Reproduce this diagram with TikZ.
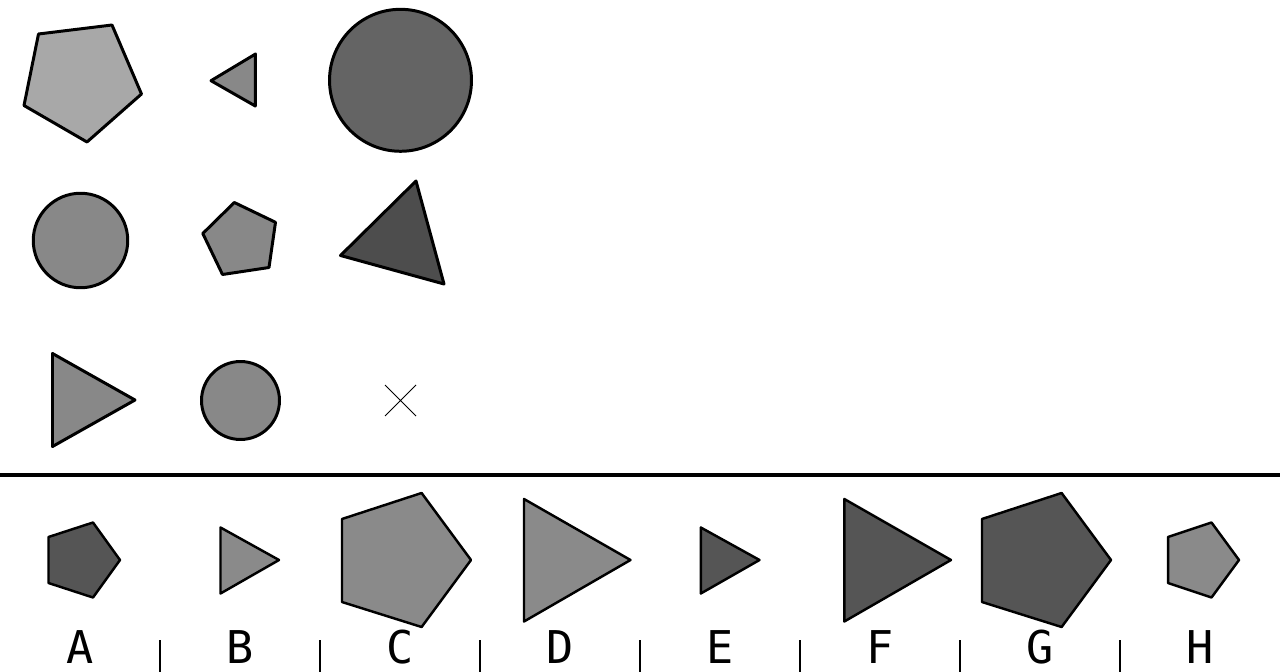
\documentclass[tikz,border=0pt]{standalone}
\usepackage{fontspec}
\newfontfamily\labelfont{DejaVu Sans Mono}
\usepackage{tikz}
\definecolor{palegray}{RGB}{168,168,168}
\definecolor{midgray}{RGB}{136,136,136}
\definecolor{deepgray}{RGB}{100,100,100}
\definecolor{darkgray}{RGB}{77,77,77}
\definecolor{optdark}{RGB}{85,85,85}
\definecolor{optmid}{RGB}{138,138,138}
\begin{document}
\begin{tikzpicture}[x=0.02cm,y=-0.02cm,line join=round,
  cell/.style={draw=black,line width=1.7pt},
  choice/.style={draw=black,line width=1.4pt},
  letter/.style={anchor=base,inner sep=0pt,font=\labelfont\fontsize{25.7}{30}\selectfont}]
\useasboundingbox (0,0) rectangle (1280,672);
% matrix, row 1
\filldraw[cell,fill=palegray] (38.5,34) -- (112,25) -- (141.5,94) -- (87,142) -- (24,105.5) -- cycle;
\filldraw[cell,fill=midgray] (211,80.7) -- (255.5,54) -- (255.3,106) -- cycle;
\filldraw[cell,fill=deepgray] (400.5,80.3) circle (1.42cm);
% matrix, row 2
\filldraw[cell,fill=midgray] (80.5,240.5) circle (0.945cm);
\filldraw[cell,fill=midgray] (234.3,202.5) -- (275.5,222.3) -- (269,267.5) -- (222.5,274.5) -- (202.8,233.5) -- cycle;
\filldraw[cell,fill=darkgray] (416,181) -- (444,284) -- (340.5,255.5) -- cycle;
% matrix, row 3
\filldraw[cell,fill=midgray] (52.5,353.5) -- (135,400) -- (52.5,446.5) -- cycle;
\filldraw[cell,fill=midgray] (240.5,400.5) circle (0.78cm);
\draw[line width=0.5pt] (385,385) -- (416,416) (385,416) -- (416,385);
% separator
\draw[line width=2.3pt] (0,475.3) -- (1280,475.3);
% answer choices
\filldraw[choice,fill=optdark] (48.5,537) -- (93,522.5) -- (120,560) -- (93,597.5) -- (48.5,583) -- cycle;
\filldraw[choice,fill=optmid] (220.5,527.5) -- (279,560) -- (220.5,593.5) -- cycle;
\filldraw[choice,fill=optmid] (342,519) -- (421.6,493) -- (471,560) -- (421.6,627) -- (342,602) -- cycle;
\filldraw[choice,fill=optmid] (524,499) -- (630.5,560) -- (524,621.5) -- cycle;
\filldraw[choice,fill=optdark] (700.8,527.5) -- (759.5,560) -- (700.8,593.5) -- cycle;
\filldraw[choice,fill=optdark] (844.3,499) -- (951,560) -- (844.3,621.5) -- cycle;
\filldraw[choice,fill=optdark] (982,519) -- (1061.6,493) -- (1111,560) -- (1061.6,627) -- (982,602) -- cycle;
\filldraw[choice,fill=optmid] (1168,537) -- (1211.5,522.5) -- (1239,560) -- (1211.5,597.5) -- (1168,583) -- cycle;
% labels
\node[letter] (optA) at (80,663) {A};
\node[letter] (optB) at (240,663) {B};
\node[letter] (optC) at (400,663) {C};
\node[letter] (optD) at (560,663) {D};
\node[letter] (optE) at (720,663) {E};
\node[letter] (optF) at (880,663) {F};
\node[letter] (optG) at (1040,663) {G};
\node[letter] (optH) at (1200,663) {H};
% dividers
\draw[line width=1.1pt] (160,640) -- (160,672);
\draw[line width=1.1pt] (320,640) -- (320,672);
\draw[line width=1.1pt] (480,640) -- (480,672);
\draw[line width=1.1pt] (640,640) -- (640,672);
\draw[line width=1.1pt] (800,640) -- (800,672);
\draw[line width=1.1pt] (960,640) -- (960,672);
\draw[line width=1.1pt] (1120,640) -- (1120,672);
\end{tikzpicture}
\end{document}
